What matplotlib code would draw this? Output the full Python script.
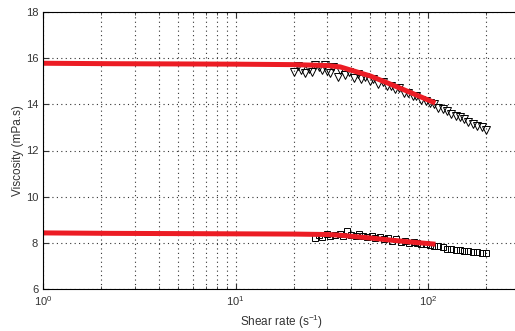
import numpy as np
import matplotlib
matplotlib.use("Agg")
import matplotlib.pyplot as plt
from matplotlib.ticker import LogLocator, NullFormatter

plt.rcParams['font.family'] = ['Liberation Sans', 'DejaVu Sans']
plt.rcParams['mathtext.fontset'] = 'custom'
plt.rcParams['mathtext.rm'] = 'Liberation Sans'

# ---------------------------------------------
# measured data (read off the reference)
upper_x = [20, 21, 22, 23, 24, 25, 26, 27, 28, 29, 30, 31, 32, 34, 35, 37, 39, 41, 43, 45,
           47, 50, 52, 55, 58, 61, 64, 67, 71, 75, 79, 83, 87, 92, 97, 102, 107, 113, 119,
           125, 132, 139, 146, 154, 162, 171, 180, 190, 200]
upper_y = [15.4, 15.65, 15.5, 15.35, 15.55, 15.4, 15.7, 15.6, 15.5, 15.7, 15.45, 15.35, 15.6,
           15.2, 15.5, 15.25, 15.4, 15.15, 15.3, 15.1, 15.2, 15.0, 15.1, 14.9, 14.95, 14.8,
           14.8, 14.65, 14.7, 14.5, 14.5, 14.35, 14.35, 14.2, 14.15, 14.05, 14.0, 13.85, 13.8,
           13.7, 13.6, 13.5, 13.45, 13.35, 13.25, 13.15, 13.05, 13.0, 12.9]

lower_x = [26, 27, 28, 30, 31, 33, 35, 36, 38, 40, 42, 44, 46, 48, 51, 53, 56, 59, 62, 65,
           68, 72, 76, 80, 84, 88, 92, 97, 102, 107, 113, 119, 125, 132, 139, 146, 154, 162,
           171, 180, 190, 200]
lower_y = [8.2, 8.35, 8.25, 8.4, 8.3, 8.35, 8.4, 8.3, 8.5, 8.35, 8.3, 8.4, 8.3, 8.25, 8.3,
           8.2, 8.25, 8.15, 8.2, 8.1, 8.15, 8.05, 8.1, 8.0, 8.05, 8.0, 7.95, 7.95, 7.9, 7.85,
           7.85, 7.8, 7.75, 7.75, 7.7, 7.7, 7.65, 7.65, 7.6, 7.6, 7.55, 7.55]

# model fits (red)
fit_x = [1, 2.3, 5, 10, 20, 30, 35, 50, 63.5, 80, 106]
upper_fit = [15.78, 15.76, 15.75, 15.74, 15.72, 15.68, 15.62, 15.23, 14.88, 14.53, 14.1]
lower_fit = [8.43, 8.41, 8.40, 8.39, 8.38, 8.36, 8.33, 8.21, 8.12, 8.04, 7.95]

# ---------------------------------------------
fig = plt.figure(figsize=(5.15, 3.31), dpi=100)
ax = fig.add_axes([43/515, 42/331, 477/515, 277/331])

ax.plot(upper_x, upper_y, 'v', mfc='none', mec='black', ms=5.5, mew=0.7)
ax.plot(lower_x, lower_y, 's', mfc='none', mec='black', ms=5, mew=0.7)
ax.plot(fit_x, upper_fit, '-', color='#ec1c24', lw=3.6)
ax.plot(fit_x, lower_fit, '-', color='#ec1c24', lw=3.6)

ax.set_xscale('log')
ax.set_xlim(1, 300)
ax.set_ylim(6, 18)
ax.set_yticks(np.arange(6, 19, 2))
ax.xaxis.set_minor_locator(LogLocator(base=10, subs=np.arange(2, 10)))
ax.xaxis.set_minor_formatter(NullFormatter())

dots = (0, (1, 3))
ax.grid(True, which='both', axis='x', linestyle=dots, color='0.2', lw=0.8)
ax.grid(True, which='major', axis='y', linestyle=dots, color='0.2', lw=0.8)
ax.tick_params(which='both', direction='in', labelsize=8, colors='#333333',
               top=True, right=True)
ax.tick_params(which='major', length=4)
ax.tick_params(which='minor', length=2)
for s in ax.spines.values():
    s.set_linewidth(0.8)

ax.set_xlabel('Shear rate (s$^{-1}$)', fontsize=8.5, color='#333333', labelpad=4)
ax.set_ylabel('Viscosity (mPa.s)', fontsize=8.5, color='#333333', labelpad=1)

fig.savefig('out.png', dpi=100)
